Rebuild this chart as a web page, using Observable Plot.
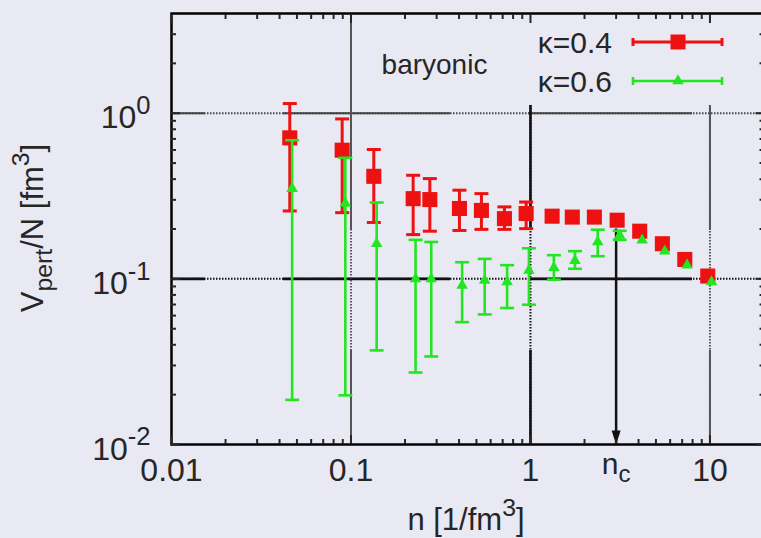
<!DOCTYPE html>
<html><head><meta charset="utf-8">
<script src="https://cdn.jsdelivr.net/npm/d3@7"></script>
<script src="https://cdn.jsdelivr.net/npm/@observablehq/plot@0.6"></script>
<style>
html,body{margin:0;padding:0;background:#e9e9f4;overflow:hidden;}
svg{display:block;}
</style></head><body>
<div id="chart"></div>
<script>
// ---- data ----
const nRed  = [0.0456, 0.0893, 0.134, 0.222, 0.275, 0.402, 0.533, 0.716, 0.946, 1.32, 1.71, 2.27, 3.04, 4.06, 5.43, 7.24, 9.72];
const vRed  = [0.71, 0.598, 0.416, 0.305, 0.301, 0.266, 0.259, 0.231, 0.248, 0.239, 0.236, 0.236, 0.226, 0.194, 0.163, 0.131, 0.104];
const loRed = [0.257, 0.251, 0.219, 0.185, 0.194, 0.196, 0.199, 0.199, 0.201, null, null, null, null, null, null, null, null];
const hiRed = [1.144, 0.924, 0.604, 0.422, 0.403, 0.343, 0.327, 0.272, 0.291, null, null, null, null, null, null, null, null];

const nGreen  = [0.047, 0.093, 0.139, 0.229, 0.280, 0.416, 0.556, 0.741, 0.98, 1.35, 1.77, 2.37, 3.14, 4.19, 5.6, 7.46, 10.2];
const vGreen  = [0.351, 0.285, 0.163, 0.100, 0.100, 0.0914, 0.098, 0.0957, 0.1125, 0.117, 0.129, 0.167, 0.183, 0.171, 0.147, 0.121, 0.0957];
const loGreen = [0.0186, 0.0198, 0.037, 0.0272, 0.034, 0.0548, 0.061, 0.0667, 0.0698, 0.0989, 0.115, 0.137, 0.172, null, null, null, null];
const hiGreen = [0.687, 0.538, 0.289, 0.172, 0.167, 0.126, 0.132, 0.121, 0.153, 0.139, 0.147, 0.198, 0.195, null, null, null, null];

const seriesNames = ["κ=0.4", "κ=0.6"];
const xTicks = [0.01, 0.1, 1, 10];
const xTickLabels = ["0.01", "0.1", "1", "10"];
const yTicks = [0.01, 0.1, 1];
const yTickLabels = ["10^{-2}", "10^{-1}", "10^0"];
const nc = 3;
const ncLabel = "n_c";
const ncArrowTop = 0.2;
const annotation = "baryonic";
const xTitle = "n [1/fm^3]";
const yTitle = "V_{pert}/N [fm^3]";
const xDomain = [0.01, 20];
const yDomain = [0.01, 4];

// ---- build tables ----
const red = nRed.map((n, i) => ({n, v: vRed[i], lo: loRed[i], hi: hiRed[i]}));
const green = nGreen.map((n, i) => ({n, v: vGreen[i], lo: loGreen[i], hi: hiGreen[i]}));
const redErr = red.filter(d => d.lo != null);
const greenErr = green.filter(d => d.lo != null);

const xMinor = [], yMinor = [];
for (const dec of [0.01, 0.1, 1, 10]) for (let m = 2; m <= 9; m++) { const v = m * dec; if (v < xDomain[1]) xMinor.push(v); }
for (const dec of [0.01, 0.1, 1]) for (let m = 2; m <= 9; m++) { const v = m * dec; if (v < yDomain[1]) yMinor.push(v); }

const RED = "#ee1111", GREEN = "#22e622";
const FONT = "'Liberation Sans', Arial, Helvetica, sans-serif";
const INK = "#262626";

const capSym = {draw(ctx) { ctx.moveTo(-7, 0); ctx.lineTo(7, 0); }};
const headSym = {draw(ctx) { ctx.moveTo(-4.5, -14); ctx.lineTo(4.5, -14); ctx.lineTo(0, 0); ctx.closePath(); }};

const W = 761, H = 538;
const chart = Plot.plot({
  width: W, height: H,
  marginLeft: 171, marginRight: -2.5, marginTop: 13, marginBottom: 94,
  x: {type: "log", domain: xDomain},
  y: {type: "log", domain: yDomain},
  style: {background: "#e9e9f4", fontFamily: FONT, color: INK, overflow: "visible"},
  marks: [
    // grid: dotted base + solid segments
    Plot.ruleY(yTicks.slice(1), {y: d => d, stroke: d => d === 0.1 ? "#111" : "#444", strokeWidth: 2, strokeDasharray: "1.5,1.5"}),
    Plot.ruleY(yTicks.slice(1), {y: d => d, stroke: d => d === 0.1 ? "#111" : "#444", strokeWidth: d => d === 0.1 ? 2.6 : 2, strokeDasharray: "34,78,167,78,164,1000"}),
    Plot.ruleX([xTicks[1]], {x: d => d, stroke: "#555", strokeWidth: 2, strokeDasharray: "1.5,1.5"}),
    Plot.ruleX([xTicks[1]], {x: d => d, stroke: "#555", strokeWidth: 2, strokeDasharray: "217,120,1000"}),
    Plot.ruleX(xTicks.slice(2), {x: d => d, insetTop: 92, stroke: d => d === 1 ? "#111" : "#555", strokeWidth: 2, strokeDasharray: "1.5,1.5"}),
    Plot.ruleX(xTicks.slice(2), {x: d => d, insetTop: 92, stroke: d => d === 1 ? "#111" : "#555", strokeWidth: d => d === 1 ? 2.6 : 2, strokeDasharray: "125,120,1000"}),
    // n_c arrow
    Plot.ruleX([nc], {x: d => d, y1: ncArrowTop, y2: yDomain[0], stroke: "#111", strokeWidth: 2.5}),
    Plot.dot([nc], {x: d => d, y: yDomain[0], symbol: headSym, fill: "#111", stroke: "none", r: 5}),
    // kappa = 0.4
    Plot.ruleX(redErr, {x: "n", y1: "lo", y2: "hi", stroke: RED, strokeWidth: 3}),
    Plot.dot(redErr, {x: "n", y: "lo", symbol: capSym, stroke: RED, fill: "none", strokeWidth: 3}),
    Plot.dot(redErr, {x: "n", y: "hi", symbol: capSym, stroke: RED, fill: "none", strokeWidth: 3}),
    Plot.dot(red, {x: "n", y: "v", symbol: "square", r: 8.5, fill: RED, stroke: "none"}),
    // kappa = 0.6
    Plot.ruleX(greenErr, {x: "n", y1: "lo", y2: "hi", stroke: GREEN, strokeWidth: 2.6}),
    Plot.dot(greenErr, {x: "n", y: "lo", symbol: capSym, stroke: GREEN, fill: "none", strokeWidth: 2.6}),
    Plot.dot(greenErr, {x: "n", y: "hi", symbol: capSym, stroke: GREEN, fill: "none", strokeWidth: 2.6}),
    Plot.dot(green, {x: "n", y: "v", symbol: "triangle", r: 4.3, fill: GREEN, stroke: "none"}),
    // frame & ticks
    Plot.frame({stroke: "#000", strokeWidth: 2.5}),
    Plot.axisX(xTicks, {anchor: "bottom", tickSize: -9, tickFormat: () => "", label: null, strokeWidth: 2}),
    Plot.axisX(xMinor, {anchor: "bottom", tickSize: -5, tickFormat: () => "", label: null, strokeWidth: 2}),
    Plot.axisX(xTicks, {anchor: "top", tickSize: -9, tickFormat: () => "", label: null, strokeWidth: 2}),
    Plot.axisX(xMinor, {anchor: "top", tickSize: -5, tickFormat: () => "", label: null, strokeWidth: 2}),
    Plot.axisY(yTicks, {anchor: "left", tickSize: -9, tickFormat: () => "", label: null, strokeWidth: 2}),
    Plot.axisY(yMinor, {anchor: "left", tickSize: -5, tickFormat: () => "", label: null, strokeWidth: 2}),
    Plot.axisY(yTicks, {anchor: "right", tickSize: -9, tickFormat: () => "", label: null, strokeWidth: 2}),
    Plot.axisY(yMinor, {anchor: "right", tickSize: -5, tickFormat: () => "", label: null, strokeWidth: 2}),
    // tick labels
    Plot.text(xTicks, {x: d => d, frameAnchor: "bottom", dy: 36, text: (d, i) => xTickLabels[i], fontSize: 32, fill: INK}),
    Plot.text([nc], {x: d => d, frameAnchor: "bottom", dy: 29, text: () => ncLabel, fontSize: 30, fill: INK}),
    Plot.text(yTicks, {y: d => d, frameAnchor: "left", dx: -21, dy: 5, textAnchor: "end", text: (d, i) => yTickLabels[i], fontSize: 32, fill: INK}),
    // annotation
    Plot.text([annotation], {frameAnchor: "top-left", dx: 263, dy: 51.5, textAnchor: "middle", lineAnchor: "middle", text: d => d, fontSize: 28, fill: INK})
  ]
});
document.getElementById("chart").append(chart);

const svgNS = "http://www.w3.org/2000/svg";
const svg = d3.select(chart);

// axis titles
svg.append("text").attr("x", 466).attr("y", 530).attr("text-anchor", "middle")
  .attr("font-family", FONT).attr("font-size", 31).attr("fill", INK).text(xTitle);
svg.append("text").attr("transform", "translate(43,228) rotate(-90)").attr("text-anchor", "middle")
  .attr("font-family", FONT).attr("font-size", 31).attr("fill", INK).text(yTitle);

// legend
const leg = svg.append("g").attr("font-family", FONT).attr("font-size", 30).attr("fill", INK);
const legRows = [{name: seriesNames[0], color: RED, y: 42, w: 3, sym: "square"}, {name: seriesNames[1], color: GREEN, y: 81, w: 2.6, sym: "triangle"}];
for (const r of legRows) {
  leg.append("text").attr("x", 612).attr("y", r.y + 11).attr("text-anchor", "end").text(r.name);
  leg.append("line").attr("x1", 633).attr("x2", 722).attr("y1", r.y).attr("y2", r.y).attr("stroke", r.color).attr("stroke-width", r.w);
  for (const x of [633, 722]) leg.append("line").attr("x1", x).attr("x2", x).attr("y1", r.y - 4).attr("y2", r.y + 4).attr("stroke", r.color).attr("stroke-width", r.w);
  if (r.sym === "square") leg.append("rect").attr("x", 678 - 7.5).attr("y", r.y - 7.5).attr("width", 15).attr("height", 15).attr("fill", r.color);
  else leg.append("path").attr("transform", `translate(678,${r.y})`).attr("d", d3.symbol(d3.symbolTriangle, 58)()).attr("fill", r.color);
}

// rich text: ^ superscript, _ subscript
function richify(el) {
  const s = el.textContent;
  if (!/[_^]/.test(s)) return;
  const fs = parseFloat(getComputedStyle(el).fontSize);
  const parts = []; let i = 0, cur = "";
  while (i < s.length) {
    const c = s[i];
    if (c === "^" || c === "_") {
      if (cur) parts.push({t: cur, k: 0}); cur = "";
      let content;
      if (s[i + 1] === "{") { const j = s.indexOf("}", i + 2); content = s.slice(i + 2, j); i = j + 1; }
      else { content = s[i + 1]; i += 2; }
      parts.push({t: content, k: c === "^" ? 1 : -1});
    } else { cur += c; i++; }
  }
  if (cur) parts.push({t: cur, k: 0});
  el.textContent = "";
  let shift = 0;
  for (const p of parts) {
    const target = p.k === 1 ? -0.45 * fs : p.k === -1 ? 0.28 * fs : 0;
    const ts = document.createElementNS(svgNS, "tspan");
    ts.setAttribute("dy", target - shift); shift = target;
    if (p.k) ts.setAttribute("font-size", 0.8 * fs);
    ts.textContent = p.t;
    el.appendChild(ts);
  }
}
chart.querySelectorAll("text").forEach(richify);
</script>
</body></html>
